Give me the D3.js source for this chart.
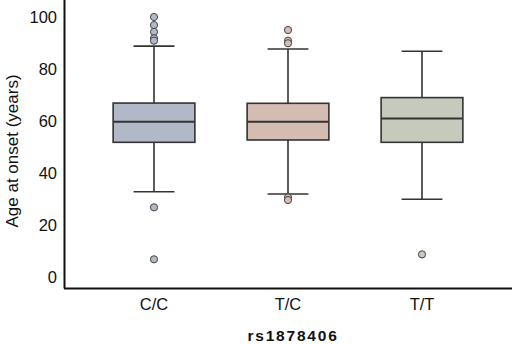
<!DOCTYPE html>
<html><head><meta charset="utf-8">
<script src="https://cdn.jsdelivr.net/npm/d3@7"></script>
<style>body{margin:0;background:#fff}svg{display:block;font-family:"Liberation Sans",Arial,sans-serif}</style>
</head><body><svg id="c" width="512" height="344"></svg>
<script>
const categories = ["C/C","T/C","T/T"];
const q1 = [51.8, 52.7, 51.8];
const medians = [59.7, 59.7, 61];
const q3 = [66.9, 66.8, 69];
const whiskerLow = [32.8, 31.9, 29.9];
const whiskerHigh = [88.8, 87.7, 86.8];
const outliers = [[100, 96.9, 94.3, 91.8, 90.9, 26.8, 6.8], [95, 90.9, 89.9, 30.6, 29.6], [8.7]];
const fills = ["#b1b9c8", "#d5bcb3", "#c6cabc"];
const yTicks = [0, 20, 40, 60, 80, 100];

const svg = d3.select("#c");
const x = d3.scaleBand().domain(categories).range([87, 489]).paddingInner(0.39).paddingOuter(0.195);
const y = d3.scaleLinear().domain([0, 100]).range([277, 17]);

svg.append("line").attr("x1",64.5).attr("x2",64.5).attr("y1",0).attr("y2",288.5).attr("stroke","#111").attr("stroke-width",2);
svg.append("line").attr("x1",64).attr("x2",512).attr("y1",288.5).attr("y2",288.5).attr("stroke","#111").attr("stroke-width",2);

const yAxis = d3.axisLeft(y).tickValues(yTicks).tickSize(0).tickPadding(0);
const ga = svg.append("g").attr("transform","translate(57,0)").call(yAxis);
ga.select(".domain").remove();
ga.selectAll("text").attr("font-size",16.5).attr("fill","#111").attr("font-family","Liberation Sans, Arial, sans-serif");

const xAxis = d3.axisBottom(x).tickSize(0).tickPadding(0);
const gx = svg.append("g").attr("transform","translate(0,298)").call(xAxis);
gx.select(".domain").remove();
gx.selectAll("text").attr("font-size",16.5).attr("fill","#111").attr("font-family","Liberation Sans, Arial, sans-serif");

const bw = x.bandwidth();
categories.forEach((c,i)=>{
  const cx = x(c) + bw/2;
  const g = svg.append("g");
  const st = "#333";
  g.append("line").attr("x1",cx).attr("x2",cx).attr("y1",y(whiskerHigh[i])).attr("y2",y(q3[i])).attr("stroke",st).attr("stroke-width",1.6);
  g.append("line").attr("x1",cx).attr("x2",cx).attr("y1",y(q1[i])).attr("y2",y(whiskerLow[i])).attr("stroke",st).attr("stroke-width",1.6);
  [whiskerHigh[i], whiskerLow[i]].forEach(v=>{
    g.append("line").attr("x1",cx-bw/4).attr("x2",cx+bw/4).attr("y1",y(v)).attr("y2",y(v)).attr("stroke",st).attr("stroke-width",1.6);
  });
  g.append("rect").attr("x",x(c)).attr("width",bw).attr("y",y(q3[i])).attr("height",y(q1[i])-y(q3[i]))
    .attr("fill",fills[i]).attr("stroke",st).attr("stroke-width",1.6);
  g.append("line").attr("x1",x(c)).attr("x2",x(c)+bw).attr("y1",y(medians[i])).attr("y2",y(medians[i])).attr("stroke",st).attr("stroke-width",2);
  g.selectAll("circle").data(outliers[i]).join("circle")
    .attr("cx",cx).attr("cy",d=>y(d)).attr("r",3.6).attr("fill",fills[i]).attr("stroke","#444").attr("stroke-width",1);
});

svg.append("text").attr("transform","translate(18,151) rotate(-90)").attr("text-anchor","middle")
  .attr("font-size",17).attr("fill","#111").text("Age at onset (years)");
svg.append("text").attr("x",293).attr("y",341).attr("text-anchor","middle").attr("font-size",15.5)
  .attr("font-weight","bold").attr("letter-spacing",1.8).attr("fill","#111").text("rs1878406");
</script></body></html>
